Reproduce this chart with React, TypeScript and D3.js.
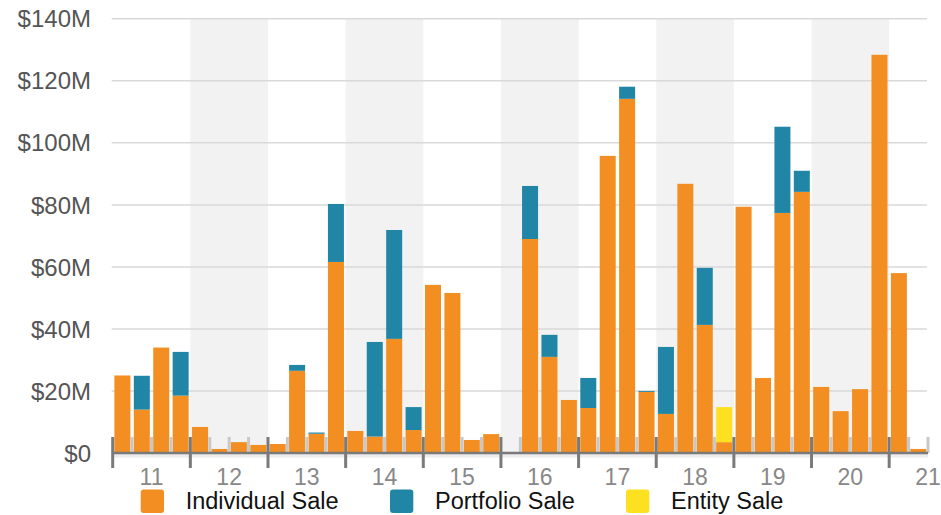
import React from "react";
import * as d3 from "d3";

const quarters: string[] = [];
for (let y = 2011; y <= 2021; y++) {
  for (let q = 1; q <= 4; q++) {
    if (y === 2021 && q > 2) break;
    quarters.push(`${y}Q${q}`);
  }
}

const individual = [25, 14, 34, 18.5, 8.4, 1.3, 3.5, 2.6, 2.9, 26.5, 6.2, 61.6, 7.1, 5.3, 36.8, 7.4, 54.2, 51.6, 4.2, 6.1, 0, 69, 31, 17.1, 14.5, 95.8, 114.2, 19.7, 12.6, 86.8, 41.3, 3.5, 79.4, 24.2, 77.4, 84.2, 21.3, 13.5, 20.6, 128.4, 58, 1.3];
const portfolio = [0, 10.9, 0, 14.1, 0, 0, 0, 0, 0, 1.9, 0.4, 18.7, 0, 30.5, 35.1, 7.4, 0, 0, 0, 0, 0, 17.1, 7.1, 0, 9.7, 0, 3.9, 0.3, 21.6, 0, 18.4, 0, 0, 0, 27.8, 6.8, 0, 0, 0, 0, 0, 0];
const entity = [0, 0, 0, 0, 0, 0, 0, 0, 0, 0, 0, 0, 0, 0, 0, 0, 0, 0, 0, 0, 0, 0, 0, 0, 0, 0, 0, 0, 0, 0, 0, 11.3, 0, 0, 0, 0, 0, 0, 0, 0, 0, 0];

const seriesKeys = ["Individual Sale", "Portfolio Sale", "Entity Sale"];
const seriesColors = ["#F28E22", "#2186A6", "#FDE01F"];
const yTicks = [0, 20, 40, 60, 80, 100, 120, 140];
const yearLabels = ["11", "12", "13", "14", "15", "16", "17", "18", "19", "20", "21"];

const FONT = "'Liberation Sans', Arial, Helvetica, sans-serif";

export default function App() {
  const left = 112.7;
  const right = 928;
  const top = 18.8;
  const bottom = 453;

  const x = d3.scaleLinear().domain([0, quarters.length]).range([left, right]);
  const y = d3.scaleLinear().domain([0, 140]).range([bottom, top]);

  const rows = quarters.map((q, i) => ({
    q,
    i,
    "Individual Sale": individual[i],
    "Portfolio Sale": portfolio[i],
    "Entity Sale": entity[i],
  }));
  const stacked = d3.stack<any>().keys(seriesKeys)(rows);

  const pad = 1.7;
  const nYears = yearLabels.length;

  const legendItems = [
    { sx: 140.7, tx: 185.7 },
    { sx: 390, tx: 435 },
    { sx: 626, tx: 671 },
  ];

  return (
    <svg
      width={941}
      height={515}
      style={{ position: "absolute", left: 0, top: 0, background: "#fff" }}
      fontFamily={FONT}
    >
      {/* year bands */}
      {yearLabels.map((lab, k) =>
        k % 2 === 1 ? (
          <rect
            key={"band" + k}
            x={x(k * 4)}
            y={top - 0.5}
            width={Math.min(x(k * 4 + 4), right) - x(k * 4)}
            height={bottom + 4.5 - top}
            fill="#f2f2f2"
          />
        ) : null
      )}
      {/* gridlines */}
      {yTicks.filter((t) => t > 0).map((t) => (
        <line key={"g" + t} x1={left - 1} x2={right - 1} y1={y(t)} y2={y(t)} stroke="#d9d9d9" strokeWidth={1.5} />
      ))}
      {/* y labels */}
      {yTicks.map((t) => (
        <text key={"yl" + t} x={91} y={y(t)} dy="0.36em" textAnchor="end" fontSize={24} fill="#555">
          {`$${t}${t === 0 ? "" : "M"}`}
        </text>
      ))}
      {/* bars */}
      {stacked.map((s, si) => (
        <g key={"s" + si} fill={seriesColors[si]}>
          {s.map((d, i) =>
            d[1] - d[0] > 0 ? (
              <rect
                key={i}
                x={x(i) + pad}
                width={x(i + 1) - x(i) - 2 * pad}
                y={y(d[1])}
                height={y(d[0]) - y(d[1])}
              />
            ) : null
          )}
        </g>
      ))}
      {/* under-axis strip */}
      <rect x={left} y={bottom} width={right - left} height={4.5} fill="#ececec" />
      {/* minor ticks */}
      {d3.range(1, quarters.length + 1)
        .filter((i) => i % 4 !== 0)
        .map((i) => (
          <line key={"mt" + i} x1={x(i)} x2={x(i)} y1={437} y2={bottom} stroke="#c8c8c8" strokeWidth={3} />
        ))}
      {/* axis line */}
      <line x1={left} x2={right} y1={bottom} y2={bottom} stroke="#7a7a7a" strokeWidth={2.5} />
      {/* major ticks */}
      {d3.range(0, nYears).map((k) => (
        <line key={"MT" + k} x1={x(k * 4)} x2={x(k * 4)} y1={437} y2={468} stroke="#7a7a7a" strokeWidth={3} />
      ))}
      {/* x labels */}
      {yearLabels.map((lab, k) => (
        <text key={"xl" + k} x={x(k * 4 + 2)} y={485} textAnchor="middle" fontSize={23} fill="#888">
          {lab}
        </text>
      ))}
      {/* legend */}
      {seriesKeys.map((k, i) => (
        <g key={"lg" + i}>
          <rect x={legendItems[i].sx} y={489.5} width={23.3} height={23.5} rx={3} fill={seriesColors[i]} />
          <text x={legendItems[i].tx} y={508.5} fontSize={23.5} fill="#111">
            {k}
          </text>
        </g>
      ))}
    </svg>
  );
}
